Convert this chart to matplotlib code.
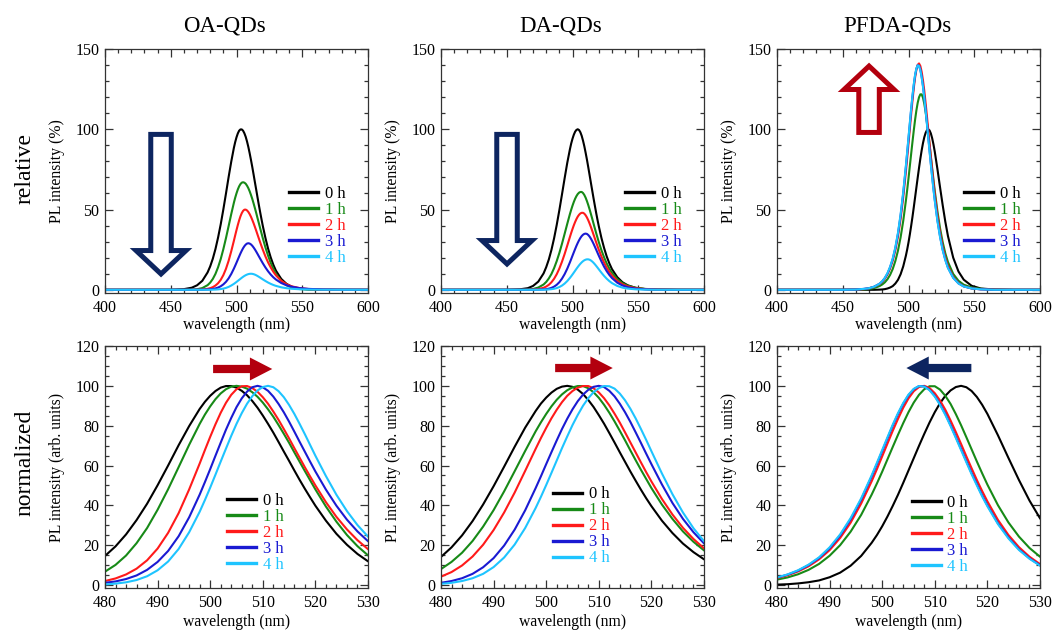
import numpy as np
import matplotlib.pyplot as plt
from matplotlib.patches import FancyArrow

plt.rcParams['font.family'] = ['Liberation Serif', 'DejaVu Serif']

# sampling grid (nm), denser around the peaks
wavelength = [400, 450, 460, 466, 470, 474, 478, 480, 482, 484, 486, 488, 490, 492, 494, 496,
              498, 499, 500, 501, 502, 503, 504, 505, 506, 507, 508, 509, 510, 511, 512, 513,
              514, 515, 516, 517, 518, 519, 520,
              522, 524, 526, 528, 530, 534, 538, 542, 548, 555, 565, 580, 600]

# normalized PL spectra (%)
oa_0h = [0, 0, 0.4, 1.3, 2.8, 5.6, 10.8, 14.6, 19.4, 25.4, 32.6, 40.8, 50.1, 60.0, 70.2, 79.8,
         88.4, 92.0, 95.0, 97.4, 99.1, 99.9, 99.9, 99.1, 97.5, 95.3, 92.4, 89.0, 85.1, 80.9, 76.5, 71.8,
         67.0, 62.3, 57.5, 52.8, 48.3, 44.0, 39.8,
         32.3, 25.7, 20.2, 15.6, 11.9, 6.8, 3.7, 1.9, 0.7, 0.2, 0, 0, 0]
oa_1h = [0, 0, 0, 0.1, 0.5, 1.6, 4.3, 6.7, 10.1, 14.8, 21.0, 28.6, 37.8, 48.1, 59.2, 70.4,
         80.9, 85.6, 89.7, 93.3, 96.2, 98.3, 99.6, 100, 99.6, 98.6, 96.8, 94.5, 91.6, 88.2, 84.5, 80.3,
         75.9, 71.4, 66.6, 61.9, 57.2, 52.6, 48.0,
         39.4, 31.8, 25.1, 19.5, 14.9, 8.2, 4.3, 2.1, 0.7, 0.2, 0, 0, 0]
oa_2h = [0, 0, 0, 0, 0.1, 0.4, 1.2, 2.0, 3.3, 5.3, 8.2, 12.4, 18.3, 26.2, 36.1, 48.0,
         61.0, 67.8, 74.4, 80.7, 86.5, 91.5, 95.5, 98.3, 99.8, 99.9, 98.9, 97.0, 94.3, 91.0, 87.1, 82.9,
         78.3, 73.6, 68.7, 63.9, 59.1, 54.5, 50.0,
         41.6, 34.2, 27.9, 22.5, 18.0, 11.3, 7.0, 4.3, 2.1, 0.9, 0.3, 0, 0]
oa_3h = [0, 0, 0, 0, 0.1, 0.2, 0.6, 1.1, 1.8, 3.0, 4.8, 7.6, 11.6, 17.1, 24.5, 34.0,
         45.4, 51.7, 58.2, 64.9, 71.5, 78.0, 83.9, 89.3, 93.7, 97.1, 99.3, 100, 99.3, 97.5, 94.6, 90.9,
         86.7, 82.0, 77.0, 71.9, 66.9, 61.9, 57.0,
         47.9, 39.8, 32.8, 26.9, 22.0, 14.6, 9.7, 6.5, 3.6, 1.9, 0.8, 0.3, 0.1]
oa_4h = [0, 0, 0, 0, 0, 0, 0.2, 0.3, 0.7, 1.35, 2.5, 4.4, 7.4, 11.8, 18.1, 26.5,
         36.8, 42.7, 48.9, 55.4, 62.0, 68.5, 74.9, 80.9, 86.3, 91.0, 94.8, 97.7, 99.4, 100, 99.3, 97.3,
         94.3, 90.4, 85.9, 80.9, 75.7, 70.3, 64.9,
         54.7, 45.3, 37.1, 30.1, 24.3, 15.6, 10.0, 6.4, 3.3, 1.6, 0.6, 0.2, 0]

da_0h = [0, 0, 0.3, 1.0, 2.4, 5.1, 10.2, 14.1, 18.9, 24.9, 32.1, 40.4, 49.6, 59.4, 69.4, 79.0,
         87.4, 91.1, 94.1, 96.6, 98.5, 99.6, 100, 99.5, 98.1, 95.9, 92.9, 89.4, 85.3, 81.0, 76.3, 71.5,
         66.6, 61.8, 57.0, 52.4, 47.9, 43.6, 39.6,
         32.3, 26.1, 20.8, 16.5, 12.9, 7.9, 4.7, 2.8, 1.2, 0.5, 0.1, 0, 0]
da_1h = [0, 0, 0, 0.3, 0.8, 2.3, 5.4, 8.0, 11.6, 16.2, 22.1, 29.3, 37.6, 47.0, 57.1, 67.3,
         77.2, 81.7, 85.9, 89.7, 93.0, 95.7, 97.8, 99.2, 99.9, 99.9, 98.8, 96.8, 94.0, 90.5, 86.5, 82.1,
         77.4, 72.6, 67.6, 62.7, 57.9, 53.3, 48.7,
         40.4, 33.2, 26.9, 21.7, 17.4, 11.0, 6.8, 4.2, 2.1, 0.9, 0.3, 0.1, 0]
da_2h = [0, 0, 0, 0.1, 0.3, 0.9, 2.6, 4.2, 6.5, 9.8, 14.3, 20.2, 27.6, 36.4, 46.4, 57.3,
         68.4, 73.8, 78.9, 83.7, 88.0, 91.8, 95.0, 97.4, 99.1, 99.9, 99.9, 98.8, 96.7, 93.8, 90.2, 86.0,
         81.5, 76.6, 71.6, 66.6, 61.6, 56.7, 52.0,
         43.2, 35.4, 28.7, 23.1, 18.4, 11.5, 7.1, 4.4, 2.1, 0.9, 0.3, 0, 0]
da_3h = [0, 0, 0, 0, 0, 0.2, 0.6, 1.1, 2.0, 3.4, 5.6, 8.9, 13.5, 19.8, 27.8, 37.5,
         48.7, 54.6, 60.7, 66.7, 72.6, 78.3, 83.5, 88.2, 92.3, 95.6, 98.0, 99.5, 100, 99.4, 97.5, 94.7,
         91.0, 86.7, 81.9, 76.7, 71.4, 66.0, 60.7,
         50.5, 41.2, 33.2, 26.5, 20.9, 12.7, 7.6, 4.5, 2.1, 0.8, 0.2, 0, 0]
da_4h = [0, 0, 0, 0, 0, 0.1, 0.3, 0.6, 1.1, 2.0, 3.4, 5.6, 9.0, 13.8, 20.3, 28.6,
         38.7, 44.3, 50.2, 56.3, 62.5, 68.7, 74.6, 80.3, 85.4, 90.0, 93.8, 96.8, 98.8, 99.9, 99.8, 98.6,
         96.1, 92.7, 88.5, 83.7, 78.4, 72.9, 67.2,
         56.0, 45.6, 36.4, 28.5, 22.0, 12.7, 7.1, 3.9, 1.5, 0.5, 0.1, 0, 0]

pfda_0h = [0, 0, 0, 0, 0, 0, 0.1, 0.2, 0.4, 0.8, 1.4, 2.3, 3.9, 6.2, 9.7, 14.6,
           21.2, 25.1, 29.5, 34.4, 39.7, 45.3, 51.3, 57.5, 63.7, 69.9, 75.9, 81.6, 86.8, 91.3, 95.0, 97.7,
           99.4, 100, 99.3, 97.4, 94.4, 90.5, 85.9,
           75.2, 63.8, 52.7, 42.4, 33.5, 20.0, 11.4, 6.3, 2.5, 0.8, 0.2, 0, 0]
pfda_1h = [0, 0, 0.1, 0.2, 0.4, 0.9, 1.9, 2.7, 3.8, 5.4, 7.6, 10.6, 14.7, 20.0, 26.8, 35.2,
           45.4, 51.0, 56.9, 63.1, 69.3, 75.4, 81.3, 86.8, 91.6, 95.5, 98.3, 99.8, 99.8, 98.1, 95.0, 90.9,
           85.8, 80.2, 74.2, 68.1, 62.0, 56.1, 50.4,
           40.1, 31.4, 24.3, 18.6, 14.2, 8.1, 4.6, 2.6, 1.2, 0.5, 0.1, 0, 0]
pfda_2h = [0, 0, 0.1, 0.3, 0.7, 1.3, 2.5, 3.5, 4.9, 6.8, 9.4, 12.9, 17.5, 23.6, 31.3, 40.9,
           52.1, 58.2, 64.6, 71.0, 77.4, 83.4, 89.0, 93.7, 97.3, 99.4, 100, 98.9, 96.3, 92.6, 88.0, 82.6,
           76.8, 70.8, 64.6, 58.6, 52.7, 47.2, 42.0,
           32.7, 25.1, 19.0, 14.2, 10.5, 5.7, 3.0, 1.6, 0.6, 0.2, 0.1, 0, 0]
pfda_3h = [0, 0, 0.1, 0.4, 0.7, 1.4, 2.7, 3.7, 5.2, 7.2, 10.0, 13.6, 18.5, 24.9, 33.0, 42.9,
           54.5, 60.8, 67.2, 73.6, 80.0, 85.8, 91.0, 95.3, 98.3, 99.9, 99.7, 98.0, 94.9, 90.8, 85.9, 80.3,
           74.3, 68.3, 62.2, 56.2, 50.6, 45.0, 40.0,
           31.0, 23.8, 17.9, 13.4, 9.9, 5.4, 2.9, 1.5, 0.6, 0.2, 0, 0, 0]
pfda_4h = [0, 0, 0.1, 0.4, 0.7, 1.4, 2.7, 3.8, 5.3, 7.4, 10.2, 13.9, 18.9, 25.4, 33.6, 43.5,
           55.1, 61.4, 67.8, 74.2, 80.5, 86.3, 91.4, 95.6, 98.5, 99.9, 99.6, 97.8, 94.6, 90.4, 85.4, 79.8,
           73.8, 67.7, 61.6, 55.6, 50.0, 44.5, 39.5,
           30.6, 23.4, 17.6, 13.2, 9.7, 5.3, 2.8, 1.5, 0.6, 0.2, 0, 0, 0]

# peak intensity relative to 0 h (%)
oa_peak = [100, 67, 50, 29, 10]
da_peak = [100, 61, 48, 35, 19]
pfda_peak = [100, 122, 141, 140, 140]

labels = ['0 h', '1 h', '2 h', '3 h', '4 h']
colors = ['#000000', '#178a17', '#ff1a1a', '#1a1ad2', '#1ec4ff']
titles = ['OA-QDs', 'DA-QDs', 'PFDA-QDs']

spectra = [[oa_0h, oa_1h, oa_2h, oa_3h, oa_4h],
           [da_0h, da_1h, da_2h, da_3h, da_4h],
           [pfda_0h, pfda_1h, pfda_2h, pfda_3h, pfda_4h]]
peaks = [oa_peak, da_peak, pfda_peak]

navy = '#0d2560'
darkred = '#b3000e'
frame = '#333333'

fig = plt.figure(figsize=(10.53, 6.31), dpi=100)
W, H = 1053, 631
lefts = [105, 441, 777]
aw = 263


def style(ax, xmaj, xmin, ymaj, ymin):
    ax.xaxis.set_major_locator(plt.MultipleLocator(xmaj))
    ax.xaxis.set_minor_locator(plt.MultipleLocator(xmin))
    ax.yaxis.set_major_locator(plt.MultipleLocator(ymaj))
    ax.yaxis.set_minor_locator(plt.MultipleLocator(ymin))
    ax.tick_params(which='both', direction='in', top=True, right=True,
                   color=frame, labelsize=11.5, width=0.9)
    ax.tick_params(which='major', length=6)
    ax.tick_params(which='minor', length=3)
    ax.tick_params(axis='y', pad=4)
    ax.tick_params(axis='x', pad=5)
    for s in ax.spines.values():
        s.set_color(frame)
        s.set_linewidth(0.9)


legend_top = [(0.70, 0.438), (0.70, 0.438), (0.71, 0.438)]
legend_bot = [(0.465, 0.392), (0.427, 0.42), (0.512, 0.383)]

top_axes, bot_axes = [], []
for c in range(3):
    x0 = lefts[c] / W
    ax_t = fig.add_axes([x0, 1 - 293 / H, aw / W, 244 / H])
    ax_b = fig.add_axes([x0, 1 - 588 / H, aw / W, 242 / H])
    for i in range(5):
        rel = np.array(spectra[c][i]) * peaks[c][i] / 100
        ax_t.plot(wavelength, rel, color=colors[i], lw=1.5, label=labels[i])
        ax_b.plot(wavelength, spectra[c][i], color=colors[i], lw=1.5, label=labels[i])

    ax_t.set_xlim(400, 600)
    ax_t.set_ylim(-2, 150)
    style(ax_t, 50, 10, 50, 10)
    ax_t.set_xlabel('wavelength (nm)', fontsize=11.3)
    ax_t.set_ylabel('PL intensity (%)', fontsize=11.3)
    ax_t.xaxis.set_label_coords(0.5, -0.098)
    ax_t.yaxis.set_label_coords(-0.152, 0.5)

    ax_b.set_xlim(480, 530)
    ax_b.set_ylim(-1.5, 120)
    style(ax_b, 10, 2, 20, 5)
    ax_b.set_xlabel('wavelength (nm)', fontsize=11.3)
    ax_b.set_ylabel('PL intensity (arb. units)', fontsize=11.3)
    ax_b.xaxis.set_label_coords(0.5, -0.107)
    ax_b.yaxis.set_label_coords(-0.152, 0.5)

    for ax, pos in ((ax_t, legend_top[c]), (ax_b, legend_bot[c])):
        leg = ax.legend(loc='upper left', bbox_to_anchor=pos, frameon=False,
                        fontsize=12, labelcolor='linecolor', handlelength=1.75,
                        handletextpad=0.4, labelspacing=0.0, borderpad=0,
                        borderaxespad=0)
        for h in leg.get_lines():
            h.set_linewidth(2.4)

    fig.text((lefts[c] + 120) / W, 1 - 31.5 / H, titles[c], fontsize=16.5,
             ha='center', va='baseline')
    top_axes.append(ax_t)
    bot_axes.append(ax_b)

fig.text(25 / W, 1 - 168 / H, 'relative', rotation=90, fontsize=17,
         ha='center', va='center')
fig.text(25 / W, 1 - 463 / H, 'normalized', rotation=90, fontsize=17,
         ha='center', va='center')

# hollow arrows on the relative panels
hollow = [(0, 0.213, 0.650, -0.572, navy),
          (1, 0.251, 0.650, -0.531, navy),
          (2, 0.350, 0.658, 0.272, darkred)]
for c, x, y, dy, col in hollow:
    top_axes[c].add_patch(FancyArrow(x, y, 0, dy, width=0.078, head_width=0.19,
                                     head_length=0.096, length_includes_head=True,
                                     transform=top_axes[c].transAxes, facecolor='white',
                                     edgecolor=col, lw=3.6, joinstyle='miter', zorder=5))

# solid arrows on the normalized panels
solid = [(0, 0.411, 0.905, 0.225, darkred),
         (1, 0.434, 0.909, 0.219, darkred),
         (2, 0.739, 0.909, -0.247, navy)]
for c, x, y, dx, col in solid:
    bot_axes[c].add_patch(FancyArrow(x, y, dx, 0, width=0.034, head_width=0.095,
                                     head_length=0.085, length_includes_head=True,
                                     transform=bot_axes[c].transAxes, color=col,
                                     lw=0, zorder=5))

fig.savefig('out.png', dpi=100)
